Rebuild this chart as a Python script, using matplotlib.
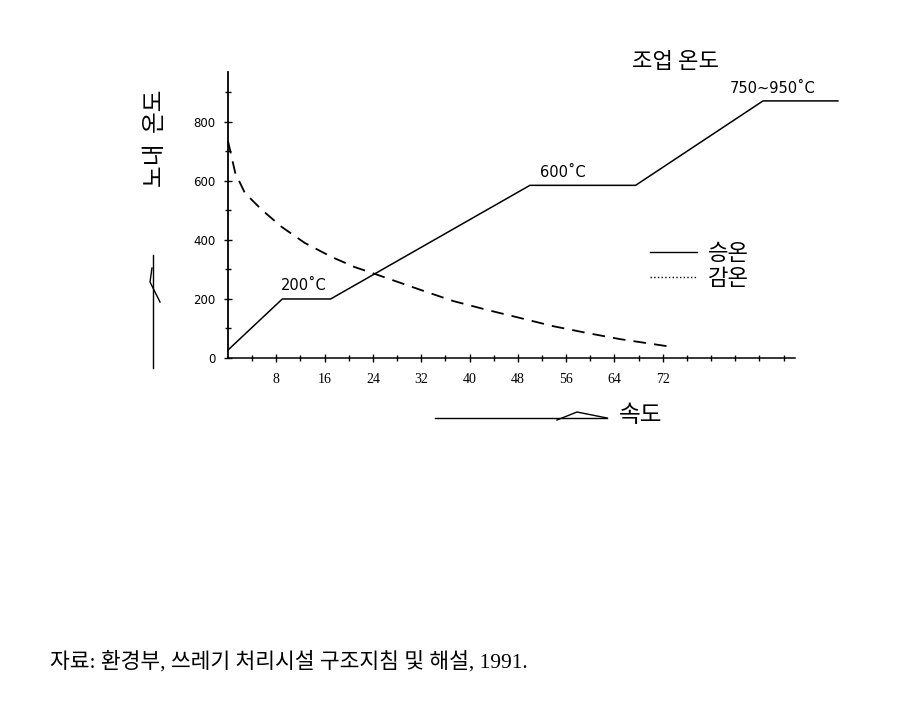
import matplotlib.pyplot as plt
import numpy as np
from matplotlib.lines import Line2D

KR = ['Noto Sans CJK KR', 'DejaVu Sans']
SERIF_KR = ['Liberation Serif', 'Noto Sans CJK KR']

# 승온 (heating) - solid polyline
heat_x = [0, 9, 17, 50, 67.5, 88.6, 101]
heat_y = [27, 200, 200, 585, 585, 871, 871]

# 감온 (cooling) - dashed curve
cool_x = [0, 1.2, 2.8, 5.6, 8.9, 12.7, 17.2, 21, 24.3, 32, 37.3, 42.9, 48.3, 53.8, 59.4, 64.9, 73.7]
cool_y = [735, 627, 559, 502, 444, 390, 342, 308, 285, 230, 193, 163, 136, 108, 85, 64, 37]

xticks = [8, 16, 24, 32, 40, 48, 56, 64, 72]
yticks = [0, 200, 400, 600, 800]

notes = [("200˚C", 12.6, 247), ("600˚C", 55.5, 627), ("750~950˚C", 90.2, 912)]

fig = plt.figure(figsize=(9.18, 7.06), dpi=100)
ax = fig.add_axes([228/918, 1 - 358/706, (795-228)/918, (358-72)/706])

ax.plot(heat_x, heat_y, color='black', lw=1.1, clip_on=False)
ax.plot(cool_x, cool_y, color='black', lw=1.3, ls=(0, (7, 4.5)), clip_on=False)

ax.set_xlim(0, 93.9)
ax.set_ylim(0, 969)
for s in ['top', 'right']:
    ax.spines[s].set_visible(False)
ax.spines['left'].set_linewidth(1.3)
ax.spines['bottom'].set_linewidth(1.1)

ax.set_xticks(xticks)
ax.set_xticklabels([str(v) for v in xticks], fontfamily='Liberation Serif', fontsize=10)
ax.set_xticks(np.arange(4, 94, 4), minor=True)
ax.set_yticks(yticks)
ax.set_yticklabels([str(v) for v in yticks], fontsize=8.5)
ax.set_yticks(np.arange(100, 960, 100), minor=True)
ax.tick_params(axis='both', which='major', direction='inout', length=6, width=1)
ax.tick_params(axis='both', which='minor', direction='inout', length=4, width=1)
ax.tick_params(axis='x', pad=8)
ax.tick_params(axis='y', pad=6)

for txt, x, y in notes:
    ax.text(x, y, txt, fontsize=10.5, ha='center', va='center', family='DejaVu Sans')

# legend
handles = [Line2D([], [], color='black', lw=1.0, ls='-'),
           Line2D([], [], color='black', lw=1.0, ls=':')]
leg = ax.legend(handles, ['승온', '감온'], prop={'family': KR, 'size': 16},
                frameon=False, handlelength=2.1, handletextpad=0.5,
                labelspacing=0.1, loc='upper left',
                bbox_to_anchor=(630/918, 1 - 222/706), bbox_transform=fig.transFigure)

fig.text(675/918, 1 - 62/706, '조업 온도', family=KR, fontsize=16, ha='center', va='center')

# y axis label with arrow line
fig.text(155/918, 1 - 138/706, '노내  온도', family=KR, fontsize=17, rotation=90,
         ha='center', va='center')
fig.add_artist(Line2D([153/918, 153/918], [1 - 255/706, 1 - 368/706],
                      transform=fig.transFigure, color='black', lw=1))
fig.add_artist(Line2D([152/918, 150/918, 160/918], [1 - 268/706, 1 - 282/706, 1 - 302/706],
                      transform=fig.transFigure, color='black', lw=1))

# x axis label with arrow line
fig.add_artist(Line2D([435/918, 607/918], [1 - 418/706, 1 - 418/706],
                      transform=fig.transFigure, color='black', lw=1))
fig.add_artist(Line2D([557/918, 577/918, 607/918], [1 - 420/706, 1 - 412/706, 1 - 418/706],
                      transform=fig.transFigure, color='black', lw=1))
fig.text(641/918, 1 - 416/706, '속도', family=KR, fontsize=17, ha='center', va='center')

fig.text(50/918, 1 - 662/706, '자료: 환경부, 쓰레기 처리시설 구조지침 및 해설, 1991.',
         family=SERIF_KR, fontsize=15.5, ha='left', va='center')

fig.savefig('out.png', dpi=100)
